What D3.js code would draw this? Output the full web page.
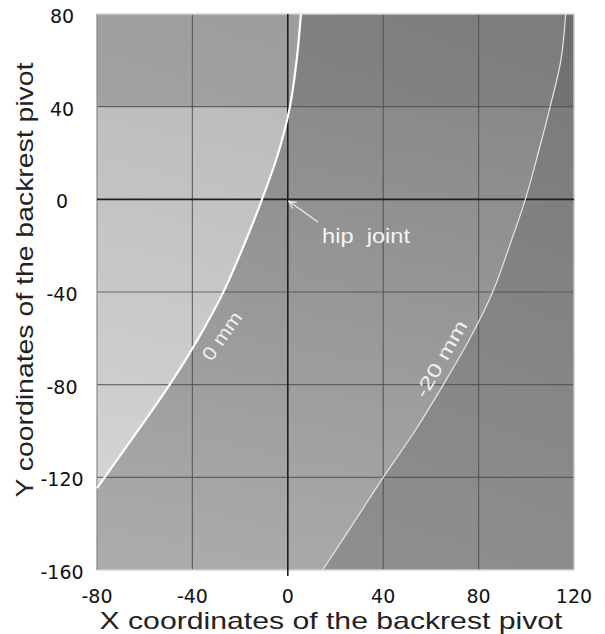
<!DOCTYPE html>
<html><head><meta charset="utf-8">
<script src="https://cdn.jsdelivr.net/npm/d3@7"></script>
<style>body{margin:0;background:#fff}svg{display:block}</style>
</head><body>
<svg id="c" width="605" height="634"></svg>
<script>
const xTicks = [-80, -40, 0, 40, 80, 120];
const yTicks = [80, 40, 0, -40, -80, -120, -160];
const curve0Y = [80, 60, 40, 20, 0, -20, -40, -60, -80, -100, -120, -124.7];
const curve0X = [5.5, 3.7, 0.9, -4, -10.8, -18.5, -27, -37.5, -49.5, -63, -76.8, -80];
const curve20Y = [80, 60, 40, 20, 0, -20, -40, -60, -80, -100, -120, -140, -160];
const curve20X = [116.5, 114.5, 110, 105, 99.6, 93, 85.9, 76.4, 65.2, 53.3, 40, 27.4, 14.6];
const curveLabels = ["0 mm", "-20 mm"];
const xTitle = "X coordinates of the backrest pivot";
const yTitle = "Y coordinates of the backrest pivot";
const hipLabel = "hip  joint";

const L = 97, T = 14, W = 477, H = 556;
const svg = d3.select("#c");
const x = d3.scaleLinear().domain([-80, 120]).range([L, L + W]);
const y = d3.scaleLinear().domain([-160, 80]).range([T + H, T]);
const FONT = "'Liberation Sans', Arial, sans-serif";
const TFONT = "'DejaVu Sans', sans-serif";

const defs = svg.append("defs");
function grad(id, stops) {
  const g = defs.append("linearGradient").attr("id", id)
    .attr("gradientUnits", "userSpaceOnUse")
    .attr("x1", 0).attr("x2", 0).attr("y1", y(80)).attr("y2", y(-160));
  stops.forEach(s => g.append("stop").attr("offset", s[0]).attr("stop-color", s[1]));
}
const f40 = (80 - 40) / 240;
grad("gMid", [[0, "#848484"], [f40, "#868686"], [f40, "#8f8f8f"], [1, "#a7a7a7"]]);
grad("gLeft", [[0, "#a2a2a2"], [f40, "#a4a4a4"], [f40, "#c2c2c2"], [1, "#d6d6d6"]]);
grad("gRight", [[0, "#747474"], [f40, "#787878"], [f40, "#828282"], [1, "#8c8c8c"]]);
const dg = defs.append("linearGradient").attr("id", "gDiag")
  .attr("gradientUnits", "userSpaceOnUse")
  .attr("x1", L).attr("y1", T + H).attr("x2", L + W).attr("y2", T);
dg.append("stop").attr("offset", 0).attr("stop-color", "#fff").attr("stop-opacity", 0.06);
dg.append("stop").attr("offset", 1).attr("stop-color", "#000").attr("stop-opacity", 0.06);

const c0 = curve0Y.map((v, i) => [curve0X[i], v]);
const c20 = curve20Y.map((v, i) => [curve20X[i], v]);
const line = d3.line().x(d => x(d[0])).y(d => y(d[1])).curve(d3.curveCatmullRom);

svg.append("rect").attr("x", L).attr("y", T).attr("width", W).attr("height", H).attr("fill", "url(#gMid)");
svg.append("path")
  .attr("d", line(c0) + `L${x(-80)},${y(80)}Z`)
  .attr("fill", "url(#gLeft)");
svg.append("path")
  .attr("d", line(c20) + `L${x(120)},${y(-160)}L${x(120)},${y(80)}Z`)
  .attr("fill", "url(#gRight)");
svg.append("rect").attr("x", L).attr("y", T).attr("width", W).attr("height", H).attr("fill", "url(#gDiag)");

const grid = svg.append("g");
xTicks.forEach(t => {
  if (t === -80 || t === 120 || t === 0) return;
  grid.append("line").attr("x1", x(t)).attr("x2", x(t)).attr("y1", T).attr("y2", T + H)
    .attr("stroke", "#4a4a4a").attr("stroke-opacity", 0.75).attr("stroke-width", 1.2);
});
yTicks.forEach(t => {
  if (t === 80 || t === -160 || t === 0) return;
  grid.append("line").attr("x1", L).attr("x2", L + W).attr("y1", y(t)).attr("y2", y(t))
    .attr("stroke", "#4a4a4a").attr("stroke-opacity", 0.75).attr("stroke-width", 1.2);
});
grid.append("line").attr("x1", L).attr("x2", L + W).attr("y1", T).attr("y2", T).attr("stroke", "#d4d4d4").attr("stroke-width", 1.5);
grid.append("line").attr("x1", L).attr("x2", L + W).attr("y1", T + H).attr("y2", T + H).attr("stroke", "#d4d4d4").attr("stroke-width", 1.5);
grid.append("line").attr("x1", L + W).attr("x2", L + W).attr("y1", T).attr("y2", T + H).attr("stroke", "#c8c8c8").attr("stroke-width", 1.5);
grid.append("line").attr("x1", L).attr("x2", L).attr("y1", T).attr("y2", T + H).attr("stroke", "#888").attr("stroke-width", 1.2);
grid.append("line").attr("x1", L).attr("x2", L + W).attr("y1", y(0)).attr("y2", y(0))
  .attr("stroke", "#1e1e1e").attr("stroke-width", 1.6);
grid.append("line").attr("x1", x(0)).attr("x2", x(0)).attr("y1", T).attr("y2", T + H + 6)
  .attr("stroke", "#1e1e1e").attr("stroke-width", 1.6);

svg.append("path").attr("d", line(c0)).attr("fill", "none").attr("stroke", "#fff").attr("stroke-width", 2.2);
svg.append("path").attr("d", line(c20)).attr("fill", "none").attr("stroke", "#e6e6e6").attr("stroke-width", 1.2);

svg.append("text").text(curveLabels[0])
  .attr("transform", "translate(222,336) rotate(-55)")
  .attr("text-anchor", "middle").attr("dominant-baseline", "central")
  .attr("font-family", FONT).attr("font-size", 19).attr("fill", "#f0f0f0")
  .attr("textLength", 55).attr("lengthAdjust", "spacingAndGlyphs");
svg.append("text").text(curveLabels[1])
  .attr("transform", "translate(441,359) rotate(-60)")
  .attr("text-anchor", "middle").attr("dominant-baseline", "central")
  .attr("font-family", FONT).attr("font-size", 19).attr("fill", "#f0f0f0")
  .attr("textLength", 86).attr("lengthAdjust", "spacingAndGlyphs");

defs.append("marker").attr("id", "arr").attr("viewBox", "0 0 10 10").attr("refX", 9).attr("refY", 5)
  .attr("markerWidth", 9).attr("markerHeight", 9).attr("orient", "auto-start-reverse")
  .attr("markerUnits", "userSpaceOnUse")
  .append("path").attr("d", "M1,1L9,5L1,9").attr("fill", "none").attr("stroke", "#eee").attr("stroke-width", 1.3);
svg.append("line").attr("x1", 318).attr("y1", 222).attr("x2", x(0) + 1).attr("y2", y(0) + 2)
  .attr("stroke", "#eee").attr("stroke-width", 1.2).attr("marker-end", "url(#arr)");
svg.append("text").text(hipLabel).attr("x", 322).attr("y", 243)
  .attr("font-family", FONT).attr("font-size", 20).attr("fill", "#f5f5f5")
  .attr("textLength", 88).attr("lengthAdjust", "spacingAndGlyphs")
  .style("white-space", "pre");

svg.append("g").selectAll("text").data(yTicks).join("text")
  .attr("x", 62).attr("y", d => y(d) + 2).text(d => d)
  .attr("text-anchor", "middle").attr("dominant-baseline", "central")
  .attr("font-family", TFONT).attr("font-size", 19).attr("fill", "#111");
svg.append("g").selectAll("text").data(xTicks).join("text")
  .attr("x", d => x(d)).attr("y", 596).text(d => d)
  .attr("text-anchor", "middle").attr("dominant-baseline", "central")
  .attr("font-family", TFONT).attr("font-size", 19).attr("fill", "#111");

svg.append("text").text(xTitle).attr("x", 331).attr("y", 629)
  .attr("text-anchor", "middle").attr("font-family", FONT).attr("font-size", 24).attr("fill", "#222")
  .attr("textLength", 463).attr("lengthAdjust", "spacingAndGlyphs");
svg.append("text").text(yTitle).attr("transform", "translate(33,280) rotate(-90)")
  .attr("text-anchor", "middle").attr("font-family", FONT).attr("font-size", 24).attr("fill", "#222")
  .attr("textLength", 435).attr("lengthAdjust", "spacingAndGlyphs");
</script>
</body></html>
